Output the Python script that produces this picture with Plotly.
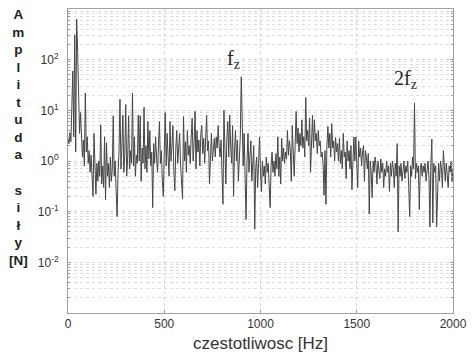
import plotly.graph_objects as go

# Spectrum amplitude [N], one value every 5 Hz from 0 to 2000 Hz
FREQ_STEP_HZ = 5
amplitude_n = [
    2.8, 2.2, 3.6, 2.4, 12, 60, 3.0, 310, 1.5, 630,
    145, 10, 3.5, 9, 2.0, 1.2, 2.6, 0.8, 22, 1.5,
    3.0, 0.9, 1.6, 0.6, 1.3, 0.5, 0.2, 3.5, 0.7, 0.22,
    0.9, 0.4, 1.0, 0.5, 5.2, 0.35, 0.8, 0.3, 3.0, 0.17,
    2.3, 0.5, 0.9, 0.3, 1.2, 0.4, 0.7, 7.8, 0.5, 1.0,
    0.25, 0.08, 0.6, 1.5, 16.6, 0.7, 1.8, 8.0, 0.6, 1.4,
    13, 0.5, 1.2, 7.8, 0.7, 1.6, 0.9, 22, 0.8, 3.0,
    0.5, 1.3, 0.9, 8.0, 1.0, 7.8, 0.4, 1.8, 0.9, 11.5,
    0.7, 2.0, 0.6, 6.0, 1.1, 4.0, 0.8, 1.5, 0.12, 2.2,
    0.9, 3.0, 1.2, 0.6, 2.0, 6.0, 0.9, 1.6, 0.4, 0.2,
    1.5, 9.0, 0.8, 3.5, 1.2, 0.5, 6.0, 1.0, 2.0, 5.0,
    0.6, 0.26, 1.8, 4.0, 0.9, 1.5, 3.5, 0.8, 0.3, 0.18,
    7.5, 1.0, 2.4, 0.6, 4.0, 1.3, 2.0, 0.9, 3.0, 7.0,
    1.0, 2.2, 9.5, 0.7, 4.0, 1.5, 2.6, 0.8, 3.5, 5.0,
    1.4, 2.8, 0.9, 3.0, 8.0, 1.6, 2.5, 0.35, 1.8, 3.5,
    1.0, 2.2, 2.8, 1.2, 3.0, 1.8, 5.0, 2.0, 1.2, 2.6,
    0.9, 0.14, 10, 1.5, 0.35, 2.5, 6.0, 1.2, 8.0, 2.0,
    0.9, 5.0, 0.2, 1.5, 4.0, 1.0, 2.6, 0.4, 1.3, 3.0,
    46, 2.0, 0.8, 3.5, 0.5, 0.07, 1.0, 3.5, 0.6, 1.5,
    2.5, 0.4, 0.9, 2.0, 0.045, 0.7, 1.2, 0.3, 0.9, 3.0,
    0.6, 0.25, 1.0, 0.5, 0.8, 0.35, 1.2, 0.6, 0.9, 0.4,
    0.12, 0.8, 1.5, 0.6, 1.0, 0.5, 1.4, 0.7, 3.0, 0.5,
    1.2, 0.35, 2.8, 1.0, 1.8, 0.9, 1.5, 1.1, 4.0, 1.3,
    2.5, 1.6, 0.4, 5.0, 1.4, 0.5, 2.0, 9.5, 2.2, 4.5,
    1.5, 3.5, 2.0, 6.5, 1.8, 3.0, 1.2, 18, 2.5, 4.0,
    2.0, 7.0, 0.6, 3.0, 8.0, 1.8, 6.5, 2.5, 3.5, 1.4,
    4.0, 2.0, 2.5, 1.2, 1.5, 0.9, 0.21, 1.6, 0.14, 2.0,
    4.8, 1.8, 3.5, 1.2, 5.5, 1.8, 2.5, 1.0, 2.9, 1.5,
    2.2, 1.0, 2.8, 0.9, 1.6, 0.7, 3.5, 1.2, 1.5, 0.45,
    2.5, 1.0, 1.6, 0.7, 2.0, 0.27, 1.5, 3.0, 1.0, 3.0,
    0.9, 0.3, 2.5, 1.2, 1.8, 0.8, 1.5, 2.0, 0.4, 1.6,
    1.2, 0.7, 1.4, 0.09, 1.0, 0.6, 0.19, 1.0, 0.6, 1.2,
    0.8, 0.35, 1.0, 0.7, 0.45, 1.1, 0.6, 0.9, 0.3, 0.7,
    0.5, 1.0, 0.6, 0.8, 0.25, 0.9, 0.5, 1.0, 0.7, 0.3,
    0.9, 0.5, 2.2, 0.04, 0.8, 0.5, 0.9, 0.4, 0.6, 1.0,
    0.45, 0.8, 0.6, 1.0, 0.3, 0.08, 0.8, 0.5, 1.2, 0.7,
    14, 0.45, 0.9, 0.6, 0.8, 0.11, 0.7, 0.9, 0.5, 0.8,
    0.6, 0.9, 0.4, 0.7, 1.0, 0.5, 0.05, 0.9, 2.7, 0.06,
    0.9, 0.6, 0.8, 0.05, 0.5, 0.9, 0.4, 1.0, 0.7, 0.3,
    1.6, 0.6, 0.4, 0.9, 0.5, 0.3, 0.8, 0.6, 1.0, 0.4,
    0.7,
]
frequency_hz = [i * FREQ_STEP_HZ for i in range(len(amplitude_n))]

x_tick_values = [0, 500, 1000, 1500, 2000]
x_tick_labels = ["0", "500", "1000", "1500", "2000"]
y_decades = [-3, -2, -1, 0, 1, 2]
y_labelled_decades = [-2, -1, 0, 1, 2]

annotation_fz = {"text": "f<sub>z</sub>", "x": 860, "y": 100}
annotation_2fz = {"text": "2f<sub>z</sub>", "x": 1753, "y": 40}

y_label_letters = ["A", "m", "p", "l", "i", "t", "u", "d", "a", "\u00a0",
                   "s", "i", "ł", "y", "[N]"]

y_major_vals = [10.0 ** d for d in y_labelled_decades]
y_major_text = ["10<sup>%d</sup>" % d for d in y_labelled_decades]
y_minor_vals = [k * 10.0 ** d for d in y_decades for k in range(2, 10)]

fig = go.Figure()
fig.add_trace(go.Scatter(
    x=frequency_hz, y=amplitude_n, mode="lines",
    line=dict(color="#454545", width=1), showlegend=False, hoverinfo="skip",
))

grid_col = "#d6d6d6"
fig.update_xaxes(
    range=[0, 2000], tickvals=x_tick_values, ticktext=x_tick_labels,
    showgrid=True, gridcolor=grid_col, griddash="dot", gridwidth=1,
    showline=True, linecolor="#a0a0a0", linewidth=1, mirror=True,
    ticks="inside", ticklen=3, tickcolor="#a0a0a0",
    tickfont=dict(family="Liberation Sans, Arial", size=12, color="#333"),
    zeroline=False,
)
fig.update_yaxes(
    type="log", range=[-3, 3], tickvals=y_major_vals, ticktext=y_major_text,
    showgrid=True, gridcolor=grid_col, griddash="dot", gridwidth=1,
    showline=True, linecolor="#a0a0a0", linewidth=1, mirror="ticks",
    ticks="inside", ticklen=3, tickcolor="#a0a0a0",
    tickfont=dict(family="Liberation Sans, Arial", size=12, color="#333"),
    ticklabelstandoff=6, zeroline=False,
    minor=dict(tickvals=y_minor_vals, showgrid=True, gridcolor="#dedede",
               griddash="dot", gridwidth=1, ticks="inside", ticklen=2,
               tickcolor="#a0a0a0"),
)

annotations = [
    dict(text=annotation_fz["text"], x=annotation_fz["x"], y=2.0,
         xref="x", yref="y", showarrow=False,
         font=dict(family="Liberation Serif, Times New Roman", size=20, color="#222")),
    dict(text=annotation_2fz["text"], x=annotation_2fz["x"], y=1.6,
         xref="x", yref="y", showarrow=False,
         font=dict(family="Liberation Serif, Times New Roman", size=20, color="#222")),
    dict(text="czestotliwosc [Hz]", x=0.5, y=-0.062,
         xref="paper", yref="paper", showarrow=False, yanchor="top",
         font=dict(family="Liberation Sans, Arial", size=17, color="#333")),
    dict(text="<br>".join(y_label_letters), x=-0.1285, y=1.012,
         xref="paper", yref="paper", showarrow=False, xanchor="center", yanchor="top",
         font=dict(family="Liberation Sans, Arial", size=13.5, color="#222", weight="bold")),
]
fig.update_layout(
    width=475, height=354,
    margin=dict(l=68, r=18, t=8, b=41),
    paper_bgcolor="white", plot_bgcolor="white",
    annotations=annotations,
)
fig.write_html("out.html", config={"displayModeBar": False},
               post_script="document.body.style.margin='0';")
